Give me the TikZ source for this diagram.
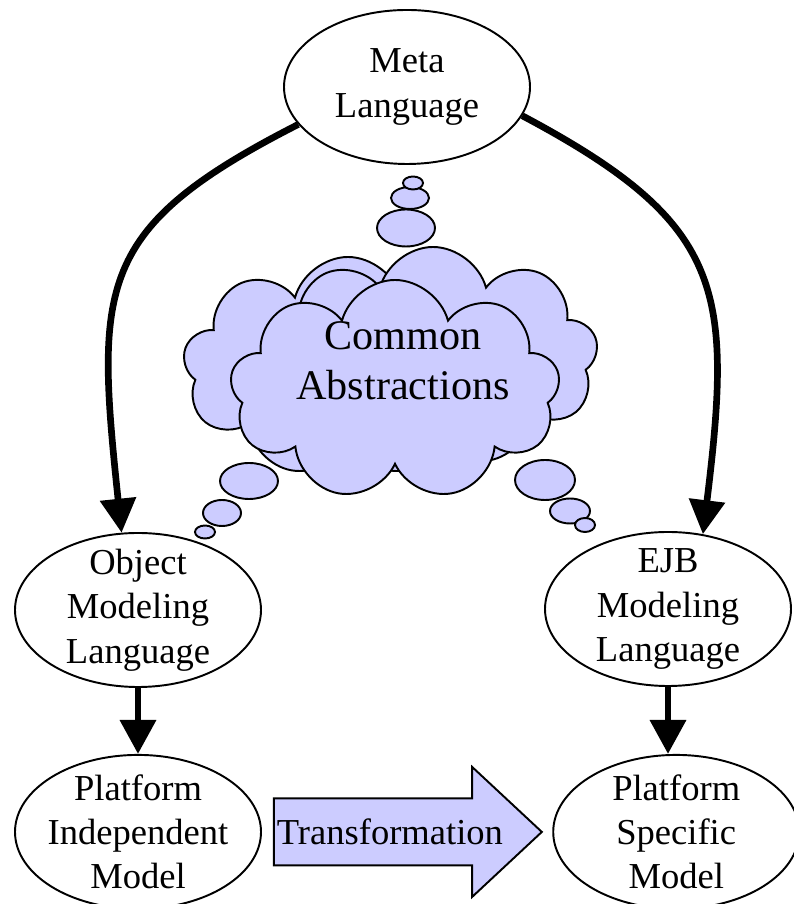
\documentclass[tikz,border=0pt]{standalone}
\usepackage{fontspec}
\setmainfont{Liberation Serif}
\usetikzlibrary{positioning, shapes.geometric, shapes.symbols, shapes.arrows, arrows.meta}
\definecolor{lavender}{RGB}{204,204,255}

\begin{document}
\begin{tikzpicture}[oval/.style={ellipse, draw, line width=0.55pt, inner sep=-0.2cm, minimum width=2.46cm, minimum height=1.54cm, align=center, font=\fontsize{10.4}{12.6}\selectfont}, puff/.style={cloud, cloud puffs=9, cloud puff arc=150, cloud ignores aspect, draw, line width=0.55pt, fill=lavender, minimum width=3.3cm, minimum height=2.2cm}, bubble/.style={draw, line width=0.55pt, fill=lavender}, bigarrow/.style={line width=1.9pt, -{Triangle[length=0.34cm, width=0.35cm]}}]

        \useasboundingbox (0,0) rectangle (7.93,9.04);

        \node[oval] (meta) at (4.07,8.17) {Meta\\Language};
        \node[oval] (objml) at (1.38,2.94) {Object\\Modeling\\Language};
        \node[oval] (ejbml) at (6.68,2.95) {EJB\\Modeling\\Language};
        \node[oval, below=0.66cm of objml] (pim) {Platform\\Independent\\Model};
        \node[single arrow, draw, fill=lavender, line width=0.55pt, right=0.11cm of pim, minimum height=2.64cm, single arrow head extend=0.315cm, single arrow tip angle=86, text height=0.25cm, text depth=0cm, inner ysep=0.2cm, inner xsep=0.02cm, font=\fontsize{10.4}{12.6}\selectfont] (transf) {Transformation};
        \node[oval, right=0.09cm of transf] (psm) {Platform\\Specific\\Model};

        % stacked clouds
        \node[puff] (cloudl) at (3.48,5.37) {};
        \node[puff] (cloudr) at (4.33,5.47) {};
        \node[puff] (cloudf) at (3.95,5.14) {};
        \foreach \x/\y/\a/\b in {4.06/6.76/0.29/0.185, 4.10/7.06/0.19/0.11, 4.13/7.21/0.10/0.065, 2.49/4.23/0.29/0.18, 2.22/3.91/0.19/0.13, 2.05/3.72/0.10/0.065, 5.45/4.24/0.30/0.20, 5.70/3.93/0.20/0.125, 5.85/3.79/0.10/0.07}
            \draw[bubble] (\x,\y) ellipse ({\a cm} and {\b cm});
        \node[font=\fontsize{12}{14.2}\selectfont, align=center] (abstr) at (4.03,5.43) {Common\\Abstractions};

        \draw[bigarrow] (meta.199) to[out=207, in=96, out looseness=1.31, in looseness=1.43] (objml.102);
        \draw[bigarrow] (meta.-14) to[out=-28, in=83, out looseness=1.28, in looseness=1.39] (ejbml.65);
        \draw[bigarrow] (objml.south) -- (pim.north);
        \draw[bigarrow] (ejbml.south) -- (ejbml.south |- psm.north);
\end{tikzpicture}
\end{document}
